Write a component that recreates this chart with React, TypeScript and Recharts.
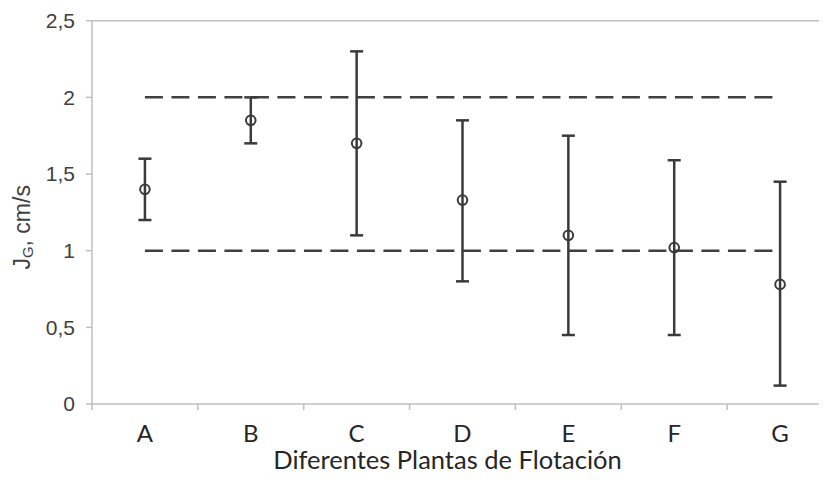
import React from 'react';
import { ComposedChart, XAxis, YAxis, Scatter, ErrorBar, Line, ReferenceLine } from 'recharts';

const plants = ['A', 'B', 'C', 'D', 'E', 'F', 'G'];
const means = [1.4, 1.85, 1.7, 1.33, 1.1, 1.02, 0.78];
const lowers = [1.2, 1.7, 1.1, 0.8, 0.45, 0.45, 0.12];
const uppers = [1.6, 2.0, 2.3, 1.85, 1.75, 1.59, 1.45];
const limitHigh = 2;
const limitLow = 1;
const yTicks = [0, 0.5, 1, 1.5, 2, 2.5];
// category boundaries (tick marks) and category centres (labels)
const xTicks = [0, 0.5, 1, 1.5, 2, 2.5, 3, 3.5, 4, 4.5, 5, 5.5, 6, 6.5, 7];

const rows = plants.map((p, i) => ({
  x: i + 0.5,
  plant: p,
  mean: means[i],
  err: [means[i] - lowers[i], uppers[i] - means[i]],
  hi: limitHigh,
  lo: limitLow,
}));

const AXIS = '#bfbfbf';
const INK = '#3a3a3a';

const Marker = (props: any) => (
  <circle cx={props.cx} cy={props.cy} r={4.8} fill="none" stroke={INK} strokeWidth={2} />
);

const XTick = (props: any) => {
  const { x, y, payload } = props;
  const v = payload.value as number;
  if (Number.isInteger(v)) {
    return <line x1={x} y1={y} x2={x} y2={y + 6} stroke={AXIS} strokeWidth={1.5} />;
  }
  return (
    <text
      x={x}
      y={y + 38}
      textAnchor="middle"
      fontFamily="Lato, 'Open Sans', sans-serif"
      fontSize={24}
      fill="#262626"
    >
      {plants[Math.floor(v)]}
    </text>
  );
};

const YLabel = (props: any) => {
  const vb = props.viewBox || {};
  const cx = (vb.x || 0) + 14;
  const cy = (vb.y || 0) + (vb.height || 0) / 2 + 15;
  return (
    <text
      x={cx}
      y={cy}
      transform={`rotate(-90, ${cx}, ${cy})`}
      textAnchor="middle"
      dominantBaseline="central"
      fontFamily="'Liberation Sans', Arial, sans-serif"
      fontSize={23}
      fill="#404040"
    >
      <tspan>J</tspan>
      <tspan fontSize={15} dy={5}>G</tspan>
      <tspan dy={-5}>, cm/s</tspan>
    </text>
  );
};

const XLabel = (props: any) => {
  const vb = props.viewBox || {};
  return (
    <text
      x={(vb.x || 0) + (vb.width || 0) / 2 - 15}
      y={(vb.y || 0) + 65}
      textAnchor="middle"
      fontFamily="Lato, 'Open Sans', sans-serif"
      fontSize={25.5}
      fill="#262626"
    >
      Diferentes Plantas de Flotación
    </text>
  );
};

export default function App() {
  return (
    <div style={{ width: 819, height: 475, overflow: 'hidden', background: '#fff' }}>
      <ComposedChart
        width={830}
        height={475}
        data={rows}
        margin={{ top: 12.7, right: 5, bottom: 0, left: 0 }}
      >
        <XAxis
          dataKey="x"
          type="number"
          domain={[0, 7]}
          ticks={xTicks}
          interval={0}
          tick={<XTick />}
          tickLine={false}
          tickSize={0}
          tickMargin={0}
          height={79}
          axisLine={{ stroke: AXIS, strokeWidth: 1.5 }}
          label={<XLabel />}
          allowDataOverflow
        />
        <YAxis
          type="number"
          domain={[0, 2.5]}
          ticks={yTicks}
          width={84}
          tickSize={6}
          tickMargin={11}
          interval={0}
          tickFormatter={(v: number) => String(v).replace('.', ',')}
          axisLine={{ stroke: AXIS, strokeWidth: 1.5 }}
          tickLine={{ stroke: AXIS, strokeWidth: 1.5 }}
          tick={{ fontFamily: "'Liberation Sans', Arial, sans-serif", fontSize: 21, fill: '#404040' }}
          label={<YLabel />}
          allowDataOverflow
        />
        <ReferenceLine y={2.5} stroke={AXIS} strokeWidth={1.5} />
        <Line
          dataKey="hi"
          type="linear"
          stroke="#404040"
          strokeWidth={2.5}
          strokeDasharray="18 8.5"
          dot={false}
          activeDot={false}
          isAnimationActive={false}
        />
        <Line
          dataKey="lo"
          type="linear"
          stroke="#404040"
          strokeWidth={2.5}
          strokeDasharray="18 8.5"
          dot={false}
          activeDot={false}
          isAnimationActive={false}
        />
        <Scatter dataKey="mean" shape={<Marker />} isAnimationActive={false}>
          <ErrorBar dataKey="err" direction="y" width={6.5} stroke={INK} strokeWidth={2.5} isAnimationActive={false} />
        </Scatter>
      </ComposedChart>
    </div>
  );
}
